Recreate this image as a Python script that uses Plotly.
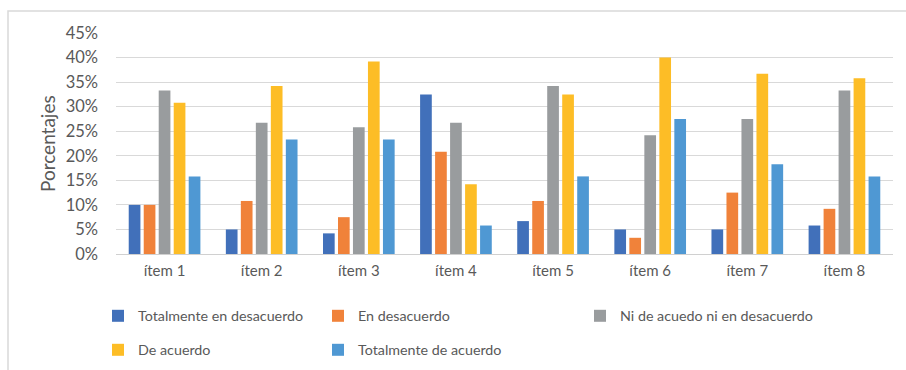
import plotly.graph_objects as go

# Categories and response shares (percent of respondents)
items = ["ítem 1", "ítem 2", "ítem 3", "ítem 4", "ítem 5", "ítem 6", "ítem 7", "ítem 8"]

totalmente_desacuerdo = [10.0, 5.0, 4.2, 32.5, 6.7, 5.0, 5.0, 5.8]
en_desacuerdo = [10.0, 10.8, 7.5, 20.8, 10.8, 3.3, 12.5, 9.2]
ni_ni = [33.3, 26.7, 25.8, 26.7, 34.2, 24.2, 27.5, 33.3]
de_acuerdo = [30.8, 34.2, 39.2, 14.2, 32.5, 40.0, 36.7, 35.8]
totalmente_acuerdo = [15.8, 23.3, 23.3, 5.8, 15.8, 27.5, 18.3, 15.8]

series_names = [
    "Totalmente en desacuerdo",
    "En desacuerdo",
    "Ni de acuedo ni en desacuerdo",
    "De acuerdo",
    "Totalmente de acuerdo",
]
series_values = [totalmente_desacuerdo, en_desacuerdo, ni_ni, de_acuerdo, totalmente_acuerdo]
colors = ["#4170BA", "#F0823A", "#999C9E", "#FDBD26", "#4F98D3"]

y_ticks = [0, 5, 10, 15, 20, 25, 30, 35, 40, 45]
y_tick_text = [f"{t}%" for t in y_ticks]

W, H = 906, 370
ML, MR, MT, MB = 116, 13, 33, 116
PW, PH = W - ML - MR, H - MT - MB

FONT = "Lato"
TEXT_COLOR = "#595959"

# one legend per entry so each can sit in its own column/row (container pixels)
legend_ids = ["legend", "legend2", "legend3", "legend4", "legend5"]
legend_px = [(98, 316), (318, 316), (580, 316), (98, 350), (318, 350)]

fig = go.Figure()
for name, vals, col, lid in zip(series_names, series_values, colors, legend_ids):
    fig.add_trace(go.Bar(
        x=items, y=vals, name=name,
        marker=dict(color=col, line=dict(width=0)),
        legend=lid,
        hovertemplate="%{x}: %{y:.1f}%<extra>" + name + "</extra>",
    ))

layout_legends = {}
for lid, (px, py) in zip(legend_ids, legend_px):
    layout_legends[lid] = dict(
        x=px / W,
        y=1 - py / H,
        xanchor="left", yanchor="middle",
        xref="container", yref="container",
        orientation="v",
        bgcolor="rgba(0,0,0,0)",
        borderwidth=0,
        font=dict(family=FONT, size=14.3, color=TEXT_COLOR),
        itemclick=False, itemdoubleclick=False,
    )

fig.update_layout(
    width=W, height=H,
    margin=dict(l=ML, r=MR, t=MT, b=MB, pad=0, autoexpand=False),
    paper_bgcolor="white", plot_bgcolor="white",
    barmode="group",
    bargap=0.228,
    bargroupgap=0.22,
    font=dict(family=FONT, size=15, color=TEXT_COLOR),
    showlegend=True,
    **layout_legends,
    xaxis=dict(
        showgrid=False, showline=False, zeroline=False,
        ticks="", ticklabelstandoff=6,
        tickfont=dict(family=FONT, size=15, color=TEXT_COLOR),
    ),
    yaxis=dict(
        range=[0, 45],
        tickvals=y_ticks, ticktext=y_tick_text,
        showgrid=True, gridcolor="#D9D9D9", gridwidth=1.3,
        zeroline=True, zerolinecolor="#D0D0D0", zerolinewidth=1.3,
        showline=False, ticks="", ticklabelstandoff=17,
        tickfont=dict(family=FONT, size=16.5, color=TEXT_COLOR),
    ),
    annotations=[dict(
        text="Porcentajes", textangle=-90,
        xref="paper", yref="paper",
        x=(47 - ML) / PW, y=(H - MB - 144) / PH,
        xanchor="center", yanchor="middle", showarrow=False,
        font=dict(family=FONT, size=19, color=TEXT_COLOR),
    )],
    shapes=[dict(
        type="rect", xref="paper", yref="paper",
        x0=(8 - ML) / PW, x1=(912 - ML) / PW,
        y0=(H - MB - 380) / PH, y1=(H - MB - 11) / PH,
        line=dict(color="#D9D9D9", width=1.5),
        fillcolor="rgba(0,0,0,0)", layer="below",
    )],
)

fig.write_html("out.html")
